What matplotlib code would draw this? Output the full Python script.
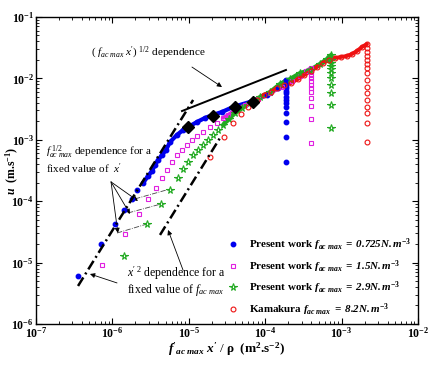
#Script for the u versus f x'/rho log-log chart
import numpy as np
import matplotlib
matplotlib.use("Agg")
import matplotlib.pyplot as plt

plt.rcParams['font.family'] = ['Liberation Serif', 'DejaVu Serif']
plt.rcParams['mathtext.fontset'] = 'custom'
plt.rcParams['mathtext.rm'] = 'Liberation Serif'
plt.rcParams['mathtext.it'] = 'Liberation Serif:italic'
plt.rcParams['mathtext.bf'] = 'Liberation Serif:bold'
plt.rcParams['mathtext.bfit'] = 'Liberation Serif:bold:italic'

# blue series, f_ac max = 0.725
blue_x = [3.55e-7, 7.1e-7, 1.08e-6, 1.42e-6, 1.81e-6, 2.10e-6, 2.52e-6, 2.93e-6, 3.30e-6,
          3.61e-6, 3.96e-6, 4.46e-6, 5.03e-6, 5.68e-6, 7.0e-6, 8.4e-6, 1.04e-5, 1.28e-5,
          1.63e-5, 2.07e-5, 2.72e-5, 3.79e-5, 6.3e-5, 1.06e-4, 1.47e-4, 1.87e-4,
          1.87e-4, 1.87e-4, 1.87e-4, 1.87e-4, 1.87e-4, 1.87e-4, 1.87e-4, 1.87e-4,
          1.87e-4, 1.87e-4, 1.87e-4, 1.87e-4, 1.87e-4]
blue_u = [6.05e-6, 2.0e-5, 4.25e-5, 7.2e-5, 1.09e-4, 1.52e-4, 1.98e-4, 2.57e-4, 3.10e-4,
          3.89e-4, 4.69e-4, 5.65e-4, 6.82e-4, 9.2e-4, 1.20e-3, 1.44e-3, 1.68e-3, 1.95e-3,
          2.27e-3, 2.54e-3, 2.84e-3, 3.42e-3, 4.13e-3, 5.37e-3, 6.98e-3, 9.4e-3,
          8.4e-3, 7.5e-3, 6.98e-3, 6.24e-3, 5.78e-3, 4.98e-3, 4.45e-3, 3.97e-3,
          3.42e-3, 2.73e-3, 1.95e-3, 1.11e-3, 4.35e-4]

# magenta series, f_ac max = 1.5
mag_x = [7.3e-7, 1.46e-6, 2.23e-6, 2.92e-6, 3.72e-6, 4.46e-6, 5.19e-6, 6.03e-6, 7.0e-6,
         8.15e-6, 9.5e-6, 1.10e-5, 1.28e-5, 1.53e-5, 1.89e-5, 2.34e-5, 2.80e-5, 3.26e-5,
         4.03e-5, 5.44e-5, 8.05e-5, 1.16e-4, 1.66e-4, 2.24e-4, 2.85e-4, 3.42e-4, 3.97e-4,
         3.97e-4, 3.97e-4, 3.97e-4, 3.97e-4, 3.97e-4, 3.97e-4, 3.97e-4, 3.97e-4,
         3.97e-4, 3.97e-4, 3.97e-4]
mag_u = [9.1e-6, 2.92e-5, 6.19e-5, 1.09e-4, 1.64e-4, 2.39e-4, 3.22e-4, 4.35e-4, 5.65e-4,
         6.82e-4, 8.2e-4, 9.9e-4, 1.15e-3, 1.34e-3, 1.62e-3, 1.88e-3, 2.27e-3, 2.54e-3,
         3.05e-3, 3.69e-3, 4.62e-3, 5.78e-3, 7.24e-3, 9.08e-3, 1.09e-2, 1.32e-2, 1.48e-2,
         1.27e-2, 1.13e-2, 1.02e-2, 9.08e-3, 7.82e-3, 6.98e-3, 6.01e-3, 4.80e-3,
         3.55e-3, 2.18e-3, 8.87e-4]

# green series, f_ac max = 2.9
grn_x = [1.42e-6, 2.84e-6, 4.33e-6, 5.68e-6, 7.23e-6, 8.4e-6, 9.8e-6, 1.14e-5, 1.32e-5,
         1.53e-5, 1.78e-5, 2.07e-5, 2.41e-5, 2.80e-5, 3.36e-5, 4.03e-5, 4.97e-5, 6.3e-5,
         8.55e-5, 1.16e-4, 1.56e-4, 2.11e-4, 2.85e-4, 3.85e-4, 5.21e-4, 6.44e-4, 7.26e-4,
         7.26e-4, 7.26e-4, 7.26e-4, 7.26e-4, 7.26e-4, 7.26e-4, 7.26e-4, 7.26e-4,
         7.26e-4, 7.26e-4]
grn_u = [1.28e-5, 4.25e-5, 9.0e-5, 1.52e-4, 2.39e-4, 3.34e-4, 4.35e-4, 5.65e-4, 6.82e-4,
         8.2e-4, 9.9e-4, 1.20e-3, 1.44e-3, 1.74e-3, 2.18e-3, 2.73e-3, 3.30e-3, 3.97e-3,
         4.98e-3, 6.01e-3, 8.11e-3, 9.77e-3, 1.22e-2, 1.37e-2, 1.72e-2, 2.07e-2, 2.40e-2,
         2.0e-2, 1.78e-2, 1.59e-2, 1.42e-2, 1.22e-2, 1.02e-2, 7.82e-3, 5.78e-3,
         3.69e-3, 1.56e-3]

# red series, Kamakura f_ac max = 8.2
red_x = [1.89e-5, 2.89e-5, 3.79e-5, 4.82e-5, 5.96e-5, 7.8e-5, 9.65e-5, 1.19e-4, 1.43e-4,
         1.76e-4, 2.18e-4, 2.69e-4, 3.22e-4, 3.97e-4, 4.76e-4, 5.71e-4, 6.84e-4, 8.2e-4,
         9.8e-4, 1.18e-3, 1.37e-3, 1.59e-3, 1.85e-3, 2.15e-3,
         2.15e-3, 2.15e-3, 2.15e-3, 2.15e-3, 2.15e-3, 2.15e-3, 2.15e-3, 2.15e-3,
         2.15e-3, 2.15e-3, 2.15e-3, 2.15e-3, 2.15e-3, 2.15e-3, 2.15e-3]
red_u = [5.25e-4, 1.11e-3, 1.88e-3, 2.63e-3, 3.42e-3, 4.45e-3, 5.37e-3, 6.01e-3, 6.98e-3,
         7.82e-3, 8.41e-3, 9.77e-3, 1.13e-2, 1.32e-2, 1.53e-2, 1.78e-2, 2.0e-2, 2.15e-2,
         2.23e-2, 2.32e-2, 2.50e-2, 2.79e-2, 3.25e-2, 3.63e-2,
         3.13e-2, 2.69e-2, 2.32e-2, 2.0e-2, 1.72e-2, 1.48e-2, 1.22e-2, 9.42e-3,
         7.24e-3, 5.78e-3, 4.45e-3, 3.42e-3, 2.73e-3, 1.88e-3, 9.2e-4]

# where each series is a dense band of markers (start, end index)
blue_band = (6, 26)
mag_band = (16, 27)
grn_band = (13, 27)
red_band = (6, 24)

# black diamonds
dia_x = [9.8e-6, 2.07e-5, 4.03e-5, 6.92e-5]
dia_u = [1.62e-3, 2.44e-3, 3.42e-3, 4.13e-3]

# guide lines
half_x = [8.15e-6, 1.87e-4]
half_u = [2.94e-3, 1.37e-2]
sq1_x = [3.55e-7, 1.14e-5]
sq1_u = [4.16e-6, 4.45e-3]
sq2_x = [4.2e-6, 2.56e-5]
sq2_u = [2.82e-5, 1.07e-3]
fixed_x = [[1.15e-6, 2.84e-6], [1.60e-6, 4.33e-6], [1.98e-6, 5.68e-6]]
fixed_u = [[3.03e-5, 4.25e-5], [6.43e-5, 9.0e-5], [1.09e-4, 1.58e-4]]

labels = [r'Present work $\mathbfit{f}_{\mathbfit{ac\ max}}\mathbfit{\ =\ 0.725N.m}^{\mathbf{-3}}$',
          r'Present work $\mathbfit{f}_{\mathbfit{ac\ max}}\mathbfit{\ =\ 1.5N.m}^{\mathbf{-3}}$',
          r'Present work $\mathbfit{f}_{\mathbfit{ac\ max}}\mathbfit{\ =\ 2.9N.m}^{\mathbf{-3}}$',
          r'Kamakura $\mathbfit{f}_{\mathbfit{ac\ max}}\mathbfit{\ =\ 8.2N.m}^{\mathbf{-3}}$']

fig = plt.figure(figsize=(4.28, 3.66), dpi=100)
ax = fig.add_axes([0.0841, 0.1148, 0.8925, 0.8388])
ax.set_xscale('log')
ax.set_yscale('log')

def band(xs, us, rng, col, lw):
    a, b = rng
    ax.plot(xs[a:b], us[a:b], '-', color=col, lw=lw, zorder=3, solid_capstyle='round')

band(blue_x, blue_u, blue_band, '#0000ee', 3.0)
band(mag_x, mag_u, mag_band, '#e020e0', 2.6)
band(grn_x, grn_u, grn_band, '#22aa22', 3.0)
band(red_x, red_u, red_band, '#ee1111', 2.8)

ax.plot(blue_x, blue_u, 'o', color='#0000ee', ms=3.2, mec='#0000ee', label=labels[0], zorder=4)
ax.plot(mag_x, mag_u, 's', color='#e020e0', ms=3.0, mfc='none', mew=0.8, label=labels[1], zorder=4)
ax.plot(grn_x, grn_u, '*', color='#22aa22', ms=5.5, mfc='none', mew=0.8, label=labels[2], zorder=4)
ax.plot(red_x, red_u, 'o', color='#ee1111', ms=3.5, mfc='none', mew=0.8, label=labels[3], zorder=4)
ax.plot(dia_x, dia_u, 'D', color='black', ms=6.5, zorder=6)

ax.plot(half_x, half_u, '-', color='black', lw=1.4, zorder=5)
ax.plot(sq1_x, sq1_u, color='black', lw=1.8, ls=(0, (4, 1.5, 0.8, 1.5)), zorder=5)
ax.plot(sq2_x, sq2_u, color='black', lw=1.8, ls=(0, (4, 1.5, 0.8, 1.5)), zorder=5)
for fx, fu in zip(fixed_x, fixed_u):
    ax.plot(fx, fu, '-.', color='#444444', lw=0.6, zorder=3)

ax.set_xlim(1e-7, 1e-2)
ax.set_ylim(1e-6, 1e-1)

# annotations
arr = dict(arrowstyle='-|>', color='black', lw=0.6, mutation_scale=7, shrinkA=0, shrinkB=0)
ax.annotate('', xy=(2.72e-5, 7.24e-3), xytext=(1.10e-5, 1.53e-2), arrowprops=arr)
ax.text(0.293, 0.883, r"$(\ f_{ac\ max}\ x')^{\ 1/2}$ dependence", transform=ax.transAxes,
        ha='center', va='center', fontsize=8)

ax.text(0.026, 0.535, r"$f_{ac\ max}^{\ 1/2}$ dependence for a" + "\n" + r"fixed value of $\ x'$",
        transform=ax.transAxes, ha='left', va='center', fontsize=8, linespacing=1.0)
for tx, tu in [(1.18e-6, 3.03e-5), (1.70e-6, 6.19e-5), (2.16e-6, 1.01e-4)]:
    ax.annotate('', xy=(tx, tu), xytext=(9.6e-7, 2.06e-4), arrowprops=arr)

ax.text(0.238, 0.14, r"$x'^{\,2}$ dependence for a" + "\n" + r"fixed value of $f_{ac\ max}$",
        transform=ax.transAxes, ha='left', va='center', fontsize=8.5, linespacing=0.95)
ax.annotate('', xy=(5.09e-7, 6.52e-6), xytext=(1.15e-6, 4.66e-6), arrowprops=arr)
ax.annotate('', xy=(5.35e-6, 3.40e-5), xytext=(8.4e-6, 7.57e-6), arrowprops=arr)

ax.legend(loc='lower right', bbox_to_anchor=(1.008, -0.012), frameon=False,
          prop={'weight': 'bold', 'size': 7.9}, handletextpad=0.9, labelspacing=0.45,
          markerscale=1.0, handlelength=1.0)

ax.set_xlabel(r"$\mathbfit{f'}_{\mathbfit{ac\ max}}\ \mathbfit{x'}\ /\ \mathbf{\rho}$  (m$^{\mathbf{2}}$.s$^{\mathbf{-2}}$)",
              fontsize=9.5, fontweight='bold', labelpad=0)
ax.set_ylabel(r"$\mathbfit{u}$  (m.s$^{\mathbf{-1}}$)", fontsize=8.5, fontweight='bold')
ax.yaxis.set_label_coords(-0.04, 0.5)

ax.tick_params(which='both', direction='in', top=True, right=True, labelsize=8.5)
ax.tick_params(which='major', length=4, width=0.8, pad=1.5)
ax.tick_params(which='minor', length=2, width=0.6)
for lab in ax.get_xticklabels() + ax.get_yticklabels():
    lab.set_fontweight('bold')
for s in ax.spines.values():
    s.set_linewidth(1.0)

fig.savefig('out.png', dpi=100)
